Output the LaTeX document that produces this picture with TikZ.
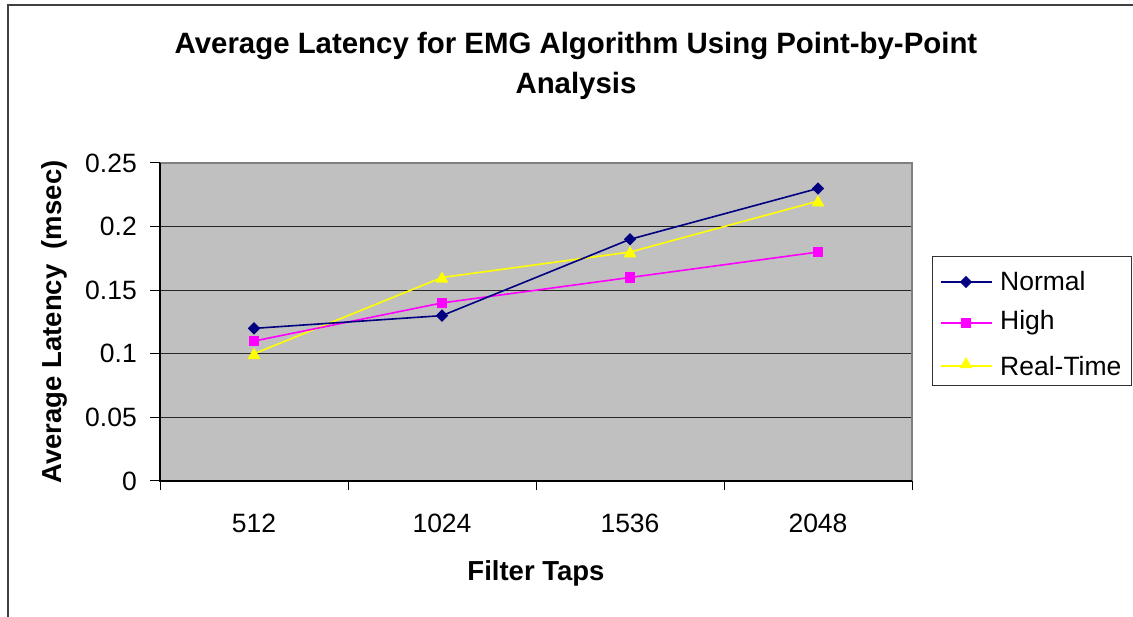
\documentclass[tikz,border=0pt]{standalone}
\usepackage{fontspec}
\setmainfont{Liberation Sans}
\usetikzlibrary{shapes.geometric}
\definecolor{plotgray}{RGB}{192,192,192}
\definecolor{framegray}{RGB}{128,128,128}
\definecolor{navyline}{RGB}{0,0,128}
\definecolor{magline}{RGB}{255,0,255}
\definecolor{yelline}{RGB}{255,255,0}
\tikzset{
  ticklabel/.style={font=\fontsize{26.5}{30}\selectfont, inner sep=0pt},
  axistitle/.style={font=\fontsize{27.5}{32}\selectfont\bfseries, inner sep=0pt},
  series/.style={line width=1.6pt},
  mdiamond/.style={diamond, fill=navyline, minimum width=12.5pt, minimum height=12.5pt, inner sep=0pt},
  msquare/.style={rectangle, fill=magline, minimum size=10.5pt, inner sep=0pt},
  mtriangle/.style={regular polygon, regular polygon sides=3, fill=yelline, minimum size=15pt, inner sep=0pt},
  legendtext/.style={font=\fontsize{26.5}{30}\selectfont, anchor=west, inner sep=0pt},
}
\begin{document}
\begin{tikzpicture}[x=1pt,y=-1pt]
\useasboundingbox (0,0) rectangle (1133,617);
% chart frame (only top and left edges lie inside the page)
\draw[line width=2pt, black!75] (8,617) -- (8,5) -- (1133,5);

% title
\node[font=\fontsize{29.4}{40}\selectfont\bfseries, align=center, inner sep=0pt] (title) at (576,66)
  {Average Latency for EMG Algorithm Using Point-by-Point\\Analysis};

% plot area
\fill[plotgray] (160,163) rectangle (912,481);
\foreach \v in {0.05,0.1,0.15,0.2}
  \draw[line width=1.1pt, black!85] (160,{481-\v*1272}) -- (912,{481-\v*1272});
\draw[line width=1.4pt, framegray] (160,163) -- (912,163) -- (912,481);
\draw[line width=1.2pt, black] (160,163) -- (160,481) -- (912,481);

% y ticks and labels
\foreach \v/\t in {0/0,0.05/0.05,0.1/0.1,0.15/0.15,0.2/0.2,0.25/0.25} {
  \draw[line width=1pt] (150,{481-\v*1272}) -- (160,{481-\v*1272});
  \node[ticklabel, anchor=east] at (137,{481-\v*1272}) {\t};
}
% x ticks and labels
\foreach \x in {160,348,536,724,912}
  \draw[line width=1pt] (\x,481) -- (\x,490);
\foreach \x/\t in {254/512,442/1024,630/1536,818/2048}
  \node[ticklabel] at (\x,523) {\t};

% axis titles
\node[axistitle] (xtitle) at (536,573) {Filter Taps};
\node[axistitle, rotate=90] (ytitle) at (54,322) {Average Latency\ \ (msec)};

% data points
\foreach \i/\x/\a/\b/\c in {1/254/0.12/0.11/0.10, 2/442/0.13/0.14/0.16, 3/630/0.19/0.16/0.18, 4/818/0.23/0.18/0.22} {
  \coordinate (n\i) at (\x,{481-\a*1272});
  \coordinate (h\i) at (\x,{481-\b*1272});
  \coordinate (r\i) at (\x,{481-\c*1272});
}
\draw[series, yelline] (r1) -- (r2) -- (r3) -- (r4);
\draw[series, magline] (h1) -- (h2) -- (h3) -- (h4);
\draw[series, navyline] (n1) -- (n2) -- (n3) -- (n4);
\foreach \i in {1,...,4} {
  \node[msquare] (hm\i) at (h\i) {};
  \node[mtriangle] (rm\i) at ([yshift=-1.5pt]r\i) {};
  \node[mdiamond] (nm\i) at (n\i) {};
}

% legend
\draw[line width=1pt, black!80] (932,257) rectangle (1131,386);
\coordinate (la1) at (941,282); \coordinate (lb1) at (992,282);
\coordinate (la2) at (941,323); \coordinate (lb2) at (992,323);
\coordinate (la3) at (941,366); \coordinate (lb3) at (992,366);
\draw[series, navyline] (la1) -- (lb1);
\node[mdiamond] (lm1) at (966,282) {};
\draw[series, magline] (la2) -- (lb2);
\node[msquare] (lm2) at (966,323) {};
\draw[series, yelline] (la3) -- (lb3);
\node[mtriangle] (lm3) at (966,364.5) {};
\node[legendtext] (lt1) at (1000,281) {Normal};
\node[legendtext] (lt2) at (1000,323) {High};
\node[legendtext] (lt3) at (1000,366) {Real-Time};
\end{tikzpicture}
\end{document}
